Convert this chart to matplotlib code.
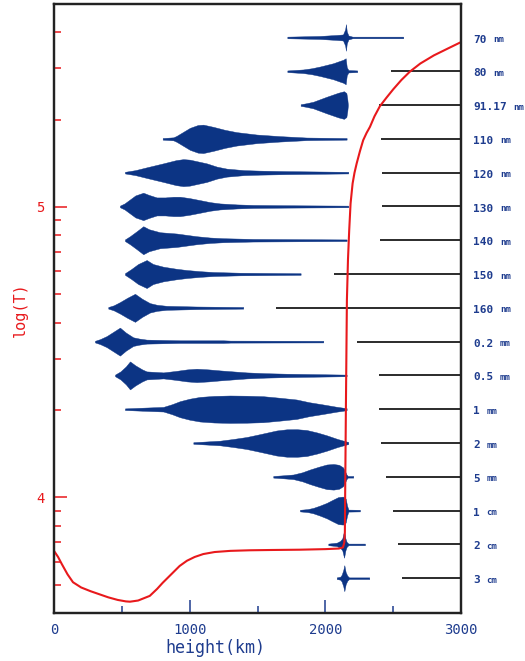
import numpy as np
import matplotlib
matplotlib.use("Agg")
import matplotlib.pyplot as plt
from matplotlib.ticker import FixedLocator, FuncFormatter, NullFormatter

# ---------------- data ----------------
channels = ["70", "80", "91.17", "110", "120", "130", "140", "150", "160",
            "0.2", "0.5", "1", "2", "5", "1", "2", "3"]
units = ["nm", "nm", "nm", "nm", "nm", "nm", "nm", "nm", "nm",
         "mm", "mm", "mm", "mm", "mm", "cm", "cm", "cm"]

# temperature model: height (km) and log10(T)
temp_height = [0, 30, 57, 100, 140, 200, 270, 338, 400, 470, 530, 560, 620, 706,
               760, 801, 870, 926, 980, 1037, 1100, 1184, 1300, 1441, 1600, 1809,
               2000, 2100, 2130, 2140, 2144, 2146, 2152, 2159, 2167, 2176, 2186,
               2201, 2215, 2231, 2255, 2279, 2304, 2329, 2362, 2402, 2450, 2500,
               2560, 2623, 2700, 2800, 2900, 2992, 3000]
temp_logT = [3.816, 3.795, 3.771, 3.735, 3.708, 3.690, 3.677, 3.666, 3.656, 3.647,
             3.642, 3.641, 3.645, 3.661, 3.685, 3.706, 3.738, 3.764, 3.782, 3.795,
             3.805, 3.812, 3.816, 3.818, 3.819, 3.820, 3.822, 3.824, 3.828, 3.845,
             3.88, 4.0, 4.33, 4.68, 4.82, 4.92, 5.012, 5.081, 5.118, 5.150, 5.192,
             5.230, 5.255, 5.276, 5.312, 5.347, 5.376, 5.405, 5.437, 5.466, 5.494,
             5.522, 5.545, 5.566, 5.568]

# contribution-function profiles: heights (km) and relative widths
h_70nm = [1720, 1960, 2084, 2130, 2146, 2152, 2158, 2170, 2200, 2574]
w_70nm = [0.8, 1.5, 2.5, 3, 8, 13.3, 6, 2, 0.8, 0.8]
h_80nm = [1720, 1837, 1900, 1960, 2058, 2110, 2132, 2150, 2158, 2170, 2235]
w_80nm = [0.8, 1.8, 3, 4.7, 8, 10.5, 11.5, 13, 4, 1.2, 0.8]
h_91nm = [1818, 1860, 1911, 2010, 2095, 2137, 2155, 2162, 2166]
w_91nm = [0.8, 1.8, 3.3, 8.3, 12.3, 13.8, 12, 6, 0.5]
h_110nm = [801, 880, 904, 953, 1002, 1060, 1100, 1174, 1260, 1346, 1494, 1665, 1862, 2157]
w_110nm = [0.8, 1.5, 3, 7, 11, 13.8, 14.2, 12, 9, 6.7, 4.3, 2.7, 1.3, 0.8]
h_120nm = [523, 600, 683, 806, 900, 953, 1000, 1125, 1200, 1273, 1400, 1518, 1715, 2169]
w_120nm = [0.8, 2.5, 5.3, 9.3, 12.5, 13.5, 13, 9.3, 6, 4, 2.5, 2, 1.5, 0.8]
h_130nm = [486, 520, 560, 600, 658, 700, 757, 820, 880, 929, 1000, 1076, 1150, 1223,
           1350, 1468, 1700, 2169]
w_130nm = [0.8, 3, 7, 11, 13.7, 11.5, 9, 9, 9.7, 9.7, 8.3, 6.3, 4.3, 3, 2, 1.5, 1.2, 0.8]
h_140nm = [523, 560, 610, 658, 700, 781, 904, 1051, 1150, 1247, 1468, 2157]
w_140nm = [0.8, 4, 9, 14, 11, 8, 6.7, 4, 2.7, 2, 1.3, 0.8]
h_150nm = [523, 570, 620, 683, 730, 806, 900, 978, 1080, 1174, 1371, 1818]
w_150nm = [0.8, 5, 10, 14, 10, 7.3, 5.3, 4, 2.8, 2, 1.3, 0.8]
h_160nm = [400, 440, 486, 540, 597, 650, 707, 760, 830, 1051, 1395]
w_160nm = [0.8, 2.5, 5.7, 10, 14, 9, 4.7, 3, 2, 1.3, 0.8]
h_02mm = [302, 340, 388, 440, 486, 530, 584, 630, 683, 928, 1248, 1300, 1985]
w_02mm = [0.8, 2.5, 5.5, 10, 14, 9, 4.3, 3, 2, 1.3, 1.3, 1.0, 0.8]
h_05mm = [450, 490, 530, 560, 600, 650, 683, 806, 900, 980, 1051, 1140, 1223, 1320,
          1420, 1560, 1715, 1911, 2157]
w_05mm = [0.8, 4, 9, 14, 10, 6, 4, 3, 4.5, 6, 6.7, 6, 5, 4, 3, 2.2, 1.7, 1.3, 0.8]
h_1mm = [523, 650, 806, 870, 928, 1000, 1076, 1180, 1297, 1420, 1542, 1660, 1788,
         1880, 1985, 2080, 2157]
w_1mm = [0.8, 1.5, 2.3, 5, 8, 10.5, 12.3, 13.3, 13.7, 13.5, 13, 11.5, 9.7, 7, 4.7, 2.5, 1.0]
h_2mm = [1027, 1120, 1223, 1320, 1420, 1500, 1567, 1640, 1715, 1790, 1862, 1940, 2010,
         2090, 2169]
w_2mm = [0.8, 1.5, 2.3, 4, 6, 8.3, 10.3, 12.5, 13.7, 13.8, 13, 10.5, 7.7, 4, 1.0]
h_5mm = [1616, 1690, 1764, 1830, 1887, 1950, 2010, 2060, 2100, 2130, 2144, 2155, 2165, 2206]
w_5mm = [0.8, 1.5, 2.3, 4.5, 7.3, 10, 12.3, 12.8, 12, 9.5, 6, 2.5, 0.8, 0.8]
h_1cm = [1813, 1870, 1911, 1960, 2010, 2050, 2095, 2130, 2150, 2160, 2170, 2255]
w_1cm = [0.8, 1.5, 2.7, 5, 7.7, 10.5, 13.5, 14, 12, 5, 1, 0.8]
h_2cm = [2022, 2084, 2110, 2125, 2138, 2148, 2157, 2170, 2292]
w_2cm = [0.8, 1.7, 3.5, 6, 13.3, 6, 2.5, 0.8, 0.8]
h_3cm = [2084, 2110, 2120, 2132, 2140, 2150, 2162, 2175, 2324]
w_3cm = [0.8, 1.5, 3.3, 8, 13, 6, 2.5, 0.8, 0.8]

profile_heights = [h_70nm, h_80nm, h_91nm, h_110nm, h_120nm, h_130nm, h_140nm, h_150nm,
                   h_160nm, h_02mm, h_05mm, h_1mm, h_2mm, h_5mm, h_1cm, h_2cm, h_3cm]
profile_widths = [w_70nm, w_80nm, w_91nm, w_110nm, w_120nm, w_130nm, w_140nm, w_150nm,
                  w_160nm, w_02mm, w_05mm, w_1mm, w_2mm, w_5mm, w_1cm, w_2cm, w_3cm]

# black bars: start height (km) reaching to the right edge
bar_start = [None, 2485, 2397, 2412, 2419, 2419, 2404, 2066, 1640,
             2235, 2397, 2397, 2412, 2449, 2500, 2537, 2566]

# ---------------- style ----------------
RED = "#e8191c"
BLUE = "#0c3484"
TXTBLUE = "#1e3c8e"
MONO = "DejaVu Sans Mono"
W, H = 525, 661

fig = plt.figure(figsize=(W / 100, H / 100), dpi=100)
ax = fig.add_axes([54 / W, 48 / H, 407 / W, 609 / H])
ax2 = ax.twinx()
ax.set_zorder(ax2.get_zorder() + 1)
ax.patch.set_visible(False)

# violins on the row axis
ax2.set_ylim(17.03, -0.99)
ax2.set_yticks([])
scale = 1 / 33.8  # relative width unit -> row units
for i, (hh, ww) in enumerate(zip(profile_heights, profile_widths)):
    hh = np.asarray(hh, float)
    ww = np.asarray(ww, float) * scale
    ax2.fill_between(hh, i - ww, i + ww, color=BLUE, lw=0.3, ec=BLUE)
    if bar_start[i] is not None:
        ax2.plot([bar_start[i], 3000], [i, i], color="#2b2b2b", lw=1.4,
                 solid_capstyle="butt")

# temperature curve
ax.plot(temp_height, 10 ** np.asarray(temp_logT), color=RED, lw=1.5)
ax.set_xlim(0, 3000)
ax.set_yscale("log")
ax.set_ylim(4000, 500000)

ax.yaxis.set_major_locator(FixedLocator([1e4, 1e5]))
ax.yaxis.set_major_formatter(FuncFormatter(lambda v, p: f"{np.log10(v):.0f}"))
ax.yaxis.set_minor_locator(FixedLocator([5e3, 6e3, 7e3, 8e3, 9e3, 2e4, 3e4, 4e4, 5e4,
                                         6e4, 7e4, 8e4, 9e4, 2e5, 3e5, 4e5]))
ax.yaxis.set_minor_formatter(NullFormatter())
ax.tick_params(axis="y", which="major", direction="in", length=9.5, width=1.1,
               color=RED, labelcolor=RED, labelsize=10, pad=7)
ax.tick_params(axis="y", which="minor", direction="in", length=5, width=1.1, color=RED)

ax.set_xticks([0, 1000, 2000, 3000])
ax.set_xticks([500, 1500, 2500], minor=True)
ax.tick_params(axis="x", which="major", direction="in", length=9.5, width=1.1,
               color=TXTBLUE, labelcolor=TXTBLUE, labelsize=10, pad=7)
ax.tick_params(axis="x", which="minor", direction="in", length=5, width=1.1, color=TXTBLUE)
for lab in ax.get_xticklabels() + ax.get_yticklabels():
    lab.set_family(MONO)

for a in (ax, ax2):
    for s in a.spines.values():
        s.set_linewidth(1.6)
        s.set_color("#222222")

fig.text(20 / W, 1 - 310 / H, "log(T)", rotation=90, ha="center", va="center",
         color=RED, fontsize=11, family=MONO)
fig.text(215 / W, 1 - 648 / H, "height(km)", ha="center", va="center",
         color=TXTBLUE, fontsize=12, family=MONO)

tr = ax2.get_yaxis_transform()
cw = 0.602 * 8
for i, (num, unit) in enumerate(zip(channels, units)):
    ax2.annotate(num, xy=(1.0295, i), xycoords=tr, xytext=(0, -1.5),
                 textcoords="offset points", ha="left", va="center",
                 fontsize=8, fontweight="bold", family=MONO, color=TXTBLUE,
                 annotation_clip=False)
    ax2.annotate(unit, xy=(1.0295, i), xycoords=tr,
                 xytext=((len(num) + 1) * cw, -1.5), textcoords="offset points",
                 ha="left", va="center", fontsize=6.5, fontweight="bold",
                 family=MONO, color=TXTBLUE, annotation_clip=False)

fig.savefig("out.png", dpi=100)
